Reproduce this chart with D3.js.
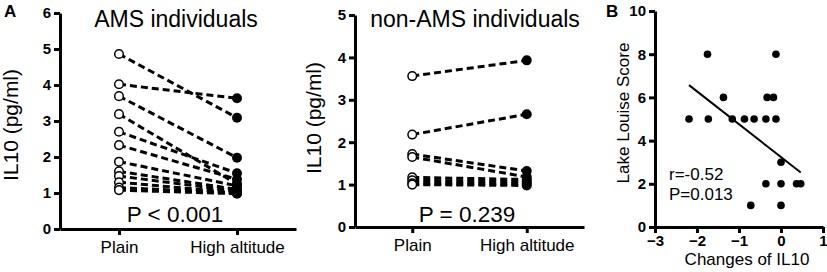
<!DOCTYPE html>
<html>
<head>
<meta charset="utf-8">
<script src="https://cdn.jsdelivr.net/npm/d3@7"></script>
<style>
	body { margin: 0; background: #fff; }
	svg text { font-family: "Liberation Sans", Arial, sans-serif !important; }
	g.ax path, g.ax line { stroke: #000 !important; stroke-width: 3px !important; }
	g.ax text { fill: #000 !important; font-size: 15px !important; font-weight: bold !important; }
	g.ax.cat text { font-size: 17px !important; font-weight: normal !important; }
</style>
</head>
<body>
<div id="graphic"></div>
<script>
// values
const categories = ['Plain', 'High altitude'];

const amsPlain = [4.86, 4.02, 3.69, 3.19, 2.70, 2.33, 1.87, 1.60, 1.47, 1.30, 1.15, 1.08];
const amsHigh = [3.09, 3.63, 1.98, 1.25, 1.55, 1.38, 1.20, 1.10, 1.05, 1.00, 1.00, 0.98];

const nonPlain = [3.56, 2.18, 1.72, 1.65, 1.17, 1.10, 1.03, 1.00];
const nonHigh = [3.93, 2.66, 1.32, 1.18, 1.12, 1.07, 1.02, 0.98];

const il10Change = [-2.19, -1.75, -1.73, -1.37, -1.16, -0.87, -0.64, -0.72, -0.36, -0.36, -0.33, -0.18, -0.12, -0.12, 0.0, 0.0, 0.0, 0.37, 0.47];
const lakeLouise = [5, 8, 5, 6, 5, 5, 5, 1, 5, 2, 6, 6, 8, 5, 3, 2, 1, 2, 2];

const fitSlope = -1.52;
const fitIntercept = 3.24;
const fitRange = [-2.19, 0.47];

let chart = d3.select('#graphic').append('svg')
	.attr('width', 827)
	.attr('height', 272);

function addAxis(parent, axis, transform, cls) {
	let a = parent.append('g')
		.attr('class', cls)
		.attr('transform', transform)
		.call(axis);
	a.attr('font-size', cls.includes('cat') ? 17 : 15);
	a.selectAll('path, line').attr('stroke', '#000').attr('stroke-width', 3);
	a.selectAll('text').attr('fill', '#000').attr('font-weight', cls.includes('cat') ? 'normal' : 'bold');
	return a;
}

function pairedPanel(opts) {
	let x = d3.scalePoint().domain(categories).range(opts.xRange).padding(0.5);
	let y = d3.scaleLinear().domain(opts.yDomain).range(opts.yRange);

	let g = chart.append('g');

	// dashed pairs, drawn under the markers
	g.selectAll('line.pair')
		.data(opts.before.map((v, i) => [v, opts.after[i]]))
		.enter().append('line')
		.attr('class', 'pair')
		.attr('x1', x(categories[0])).attr('y1', d => y(d[0]))
		.attr('x2', x(categories[1])).attr('y2', d => y(d[1]))
		.attr('stroke', '#000')
		.attr('stroke-width', 3)
		.attr('stroke-dasharray', '7,4');

	g.selectAll('circle.before')
		.data(opts.before)
		.enter().append('circle')
		.attr('class', 'before')
		.attr('cx', x(categories[0]))
		.attr('cy', d => y(d))
		.attr('r', 4.3)
		.attr('fill', '#fff')
		.attr('stroke', '#000')
		.attr('stroke-width', 1.5);

	g.selectAll('circle.after')
		.data(opts.after)
		.enter().append('circle')
		.attr('class', 'after')
		.attr('cx', x(categories[1]))
		.attr('cy', d => y(d))
		.attr('r', 5)
		.attr('fill', '#000');

	addAxis(g, d3.axisLeft(y).ticks(opts.yDomain[1]).tickSize(6).tickSizeOuter(0).tickPadding(3),
		`translate(${opts.xRange[0]},0)`, 'ax');
	addAxis(g, d3.axisBottom(x).tickSize(6).tickSizeOuter(0).tickPadding(6),
		`translate(0,${opts.yRange[0]})`, 'ax cat');

	g.append('text')
		.attr('x', opts.titleX).attr('y', 27)
		.attr('text-anchor', 'middle')
		.attr('font-size', 23)
		.text(opts.title);

	g.append('text')
		.attr('x', opts.pX).attr('y', 222)
		.attr('text-anchor', 'middle')
		.attr('font-size', 22.5)
		.text(opts.pText);

	g.append('text')
		.attr('transform', `translate(${opts.labelX},${opts.labelY}) rotate(-90)`)
		.attr('text-anchor', 'middle')
		.attr('font-size', 21)
		.text('IL10 (pg/ml)');
}

pairedPanel({
	xRange: [60, 296], yDomain: [0, 6], yRange: [229, 13],
	before: amsPlain, after: amsHigh,
	title: 'AMS individuals', titleX: 176,
	pText: 'P < 0.001', pX: 175,
	labelX: 18, labelY: 125
});

pairedPanel({
	xRange: [355, 584], yDomain: [0, 5], yRange: [227, 15],
	before: nonPlain, after: nonHigh,
	title: 'non-AMS individuals', titleX: 475,
	pText: 'P = 0.239', pX: 467,
	labelX: 321, labelY: 118
});

// panel B scatter
let xB = d3.scaleLinear().domain([-3, 1]).range([655, 823]);
let yB = d3.scaleLinear().domain([0, 10]).range([227, 11]);

let gB = chart.append('g');

gB.selectAll('circle')
	.data(il10Change.map((d, i) => [d, lakeLouise[i]]))
	.enter().append('circle')
	.attr('cx', d => xB(d[0]))
	.attr('cy', d => yB(d[1]))
	.attr('r', 3.8)
	.attr('fill', '#000');

gB.append('line')
	.attr('x1', xB(fitRange[0])).attr('y1', yB(fitIntercept + fitSlope * fitRange[0]))
	.attr('x2', xB(fitRange[1])).attr('y2', yB(fitIntercept + fitSlope * fitRange[1]))
	.attr('stroke', '#000')
	.attr('stroke-width', 2);

addAxis(gB, d3.axisLeft(yB).tickValues([0, 2, 4, 6, 8, 10]).tickSize(6).tickSizeOuter(0).tickPadding(3),
	'translate(655,0)', 'ax');
addAxis(gB, d3.axisBottom(xB).ticks(4).tickSize(6).tickSizeOuter(0).tickPadding(2).tickFormat(d3.format('d')),
	'translate(0,227)', 'ax');

gB.append('text')
	.attr('transform', 'translate(629,113) rotate(-90)')
	.attr('text-anchor', 'middle')
	.attr('font-size', 17)
	.text('Lake Louise Score');

gB.append('text')
	.attr('x', 747).attr('y', 265)
	.attr('text-anchor', 'middle')
	.attr('font-size', 17)
	.text('Changes of IL10');

gB.append('text').attr('x', 669).attr('y', 180).attr('font-size', 17).text('r=-0.52');
gB.append('text').attr('x', 669).attr('y', 200).attr('font-size', 17).text('P=0.013');

// panel letters
chart.append('text').attr('x', 4).attr('y', 17).attr('font-size', 17).attr('font-weight', 'bold').text('A');
chart.append('text').attr('x', 606).attr('y', 17).attr('font-size', 17).attr('font-weight', 'bold').text('B');
</script>
</body>
</html>
